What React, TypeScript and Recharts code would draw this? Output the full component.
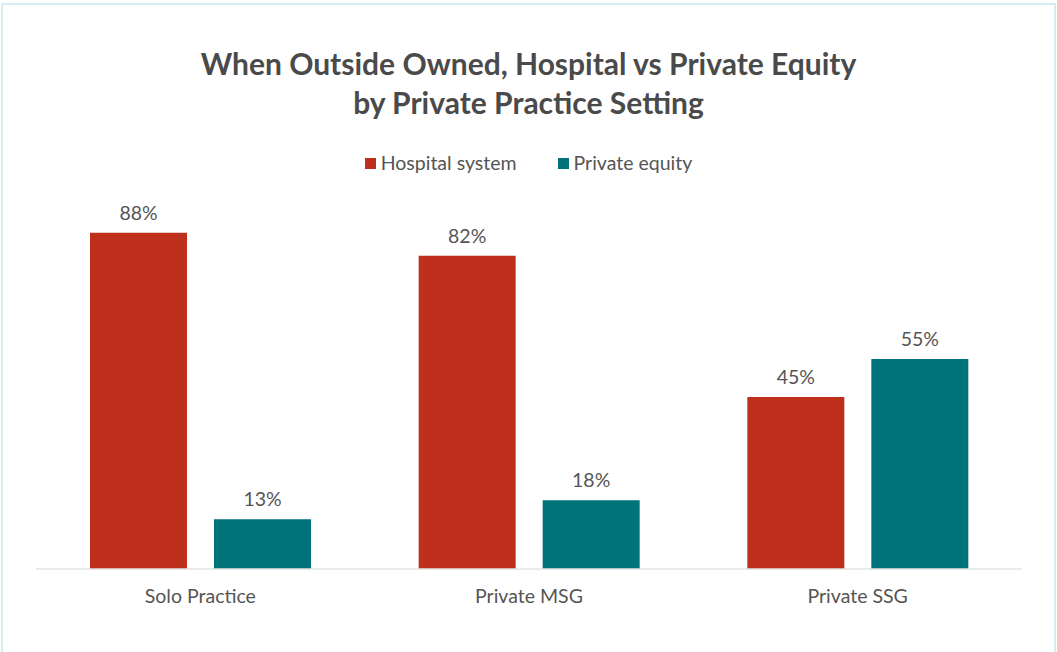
import React from "react";
import { BarChart, Bar, XAxis, YAxis, LabelList } from "recharts";

const settings = ["Solo Practice", "Private MSG", "Private SSG"];
const hospitalSystem = [88, 82, 45];
const privateEquity = [13, 18, 55];

const RED = "#be301c";
const TEAL = "#00727a";
const TEXT = "#555555";
const FONT = "Lato, 'Open Sans', sans-serif";

const data = settings.map((name, i) => ({
  name,
  hospital: hospitalSystem[i],
  equity: privateEquity[i],
}));

const legendItems = [
  { label: "Hospital system", color: RED },
  { label: "Private equity", color: TEAL },
];

const App: React.FC = () => {
  return (
    <div
      style={{
        position: "absolute",
        left: 0,
        top: 0,
        width: 1057,
        height: 652,
        background: "#fff",
      }}
    >
      <div
        style={{
          position: "absolute",
          left: 1,
          top: 3,
          width: 1051,
          height: 660,
          border: "2px solid #d5eef2",
        }}
      />
      <div
        style={{
          position: "absolute",
          left: 0,
          top: 44,
          width: 1057,
          textAlign: "center",
          fontFamily: FONT,
          fontWeight: 700,
          fontSize: 30,
          lineHeight: "39px",
          color: "#4a4a4a",
        }}
      >
        When Outside Owned, Hospital vs Private Equity
        <br />
        by Private Practice Setting
      </div>
      {/* legend */}
      <div
        style={{
          position: "absolute",
          left: 0,
          top: 151,
          width: 1057,
          display: "flex",
          justifyContent: "center",
          gap: 41,
          fontFamily: FONT,
          fontSize: 19.5,
          lineHeight: "24px",
          color: TEXT,
          paddingLeft: 0,
        }}
      >
        {legendItems.map((item) => (
          <span key={item.label} style={{ display: "flex", alignItems: "center" }}>
            <span
              style={{
                width: 11,
                height: 11,
                background: item.color,
                display: "inline-block",
                marginRight: 5,
              }}
            />
            {item.label}
          </span>
        ))}
      </div>
      <BarChart
        width={1057}
        height={652}
        data={data}
        margin={{ top: 187, right: 35, bottom: 53, left: 36 }}
        barSize={97}
        barGap={27}
        style={{ position: "absolute", left: 0, top: 0 }}
      >
        <XAxis
          dataKey="name"
          axisLine={{ stroke: "#e3e3e3", strokeWidth: 1.5 }}
          tickLine={false}
          tick={{ fill: TEXT, fontSize: 19.5, fontFamily: FONT }}
          tickMargin={14}
        />
        <YAxis hide domain={[0, 100]} />
        <Bar dataKey="hospital" name="Hospital system" fill={RED} isAnimationActive={false}>
          <LabelList
            dataKey="hospital"
            position="top"
            offset={13}
            formatter={(v: number) => `${v}%`}
            style={{ fill: TEXT, fontSize: 19.5, fontFamily: FONT }}
          />
        </Bar>
        <Bar dataKey="equity" name="Private equity" fill={TEAL} isAnimationActive={false}>
          <LabelList
            dataKey="equity"
            position="top"
            offset={13}
            formatter={(v: number) => `${v}%`}
            style={{ fill: TEXT, fontSize: 19.5, fontFamily: FONT }}
          />
        </Bar>
      </BarChart>
    </div>
  );
};

export default App;
